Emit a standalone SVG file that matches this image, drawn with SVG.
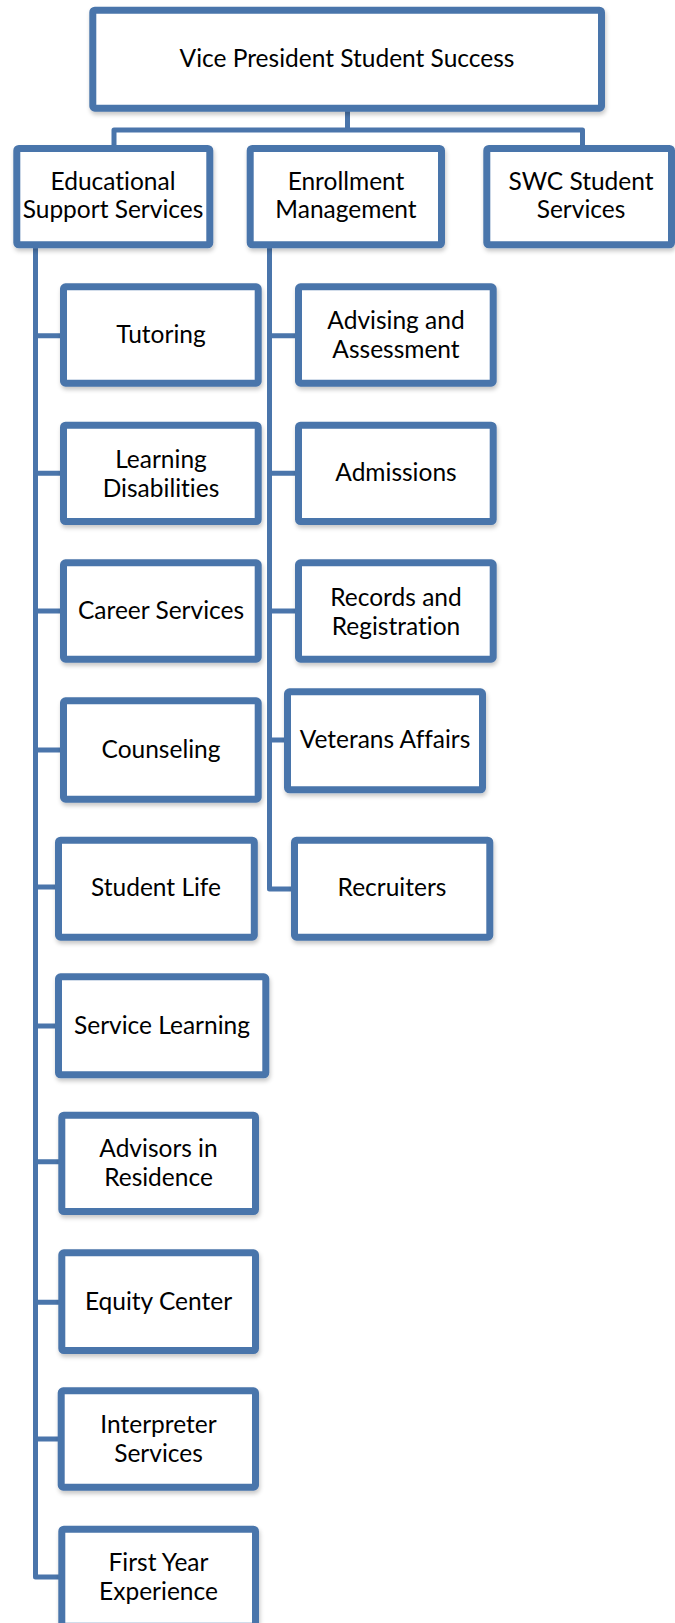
<svg xmlns="http://www.w3.org/2000/svg" width="675" height="1623" viewBox="0 0 675 1623">
<defs>
<filter id="sh" x="-10%" y="-10%" width="120%" height="130%">
<feDropShadow dx="1" dy="3" stdDeviation="2" flood-color="#000" flood-opacity="0.22"/>
</filter>
<style>
.box{fill:#fff;stroke:#4a75ab;stroke-width:7;filter:url(#sh)}
.con{fill:none;stroke:#4a75ab;stroke-width:5;stroke-linejoin:round}
text{font-family:Lato,"Liberation Sans",sans-serif;font-size:24.5px;fill:#000;text-anchor:middle;font-variant-ligatures:none;font-feature-settings:"liga" 0,"dlig" 0}
</style>
</defs>
<rect width="675" height="1623" fill="#fff"/>
<g id="connectors">
<path class="con" d="M347.5 111 V130"/>
<path class="con" d="M114 146 V130 H582.5 V146"/>
<path class="con" d="M35.5 247 V1577 H61"/>
<path class="con" d="M35.5 335.7 H62 M35.5 473.3 H62 M35.5 611 H62 M35.5 750 H62 M35.5 887 H57 M35.5 1026 H57 M35.5 1161.7 H60 M35.5 1302.3 H60 M35.5 1439 H59"/>
<path class="con" d="M269.5 247 V889 H293"/>
<path class="con" d="M269.5 335.7 H297 M269.5 473.3 H297 M269.5 611 H297 M269.5 740 H286"/>
</g>
<g id="vp"><rect class="box" x="92.8" y="10.2" width="508.7" height="98" rx="2"/><text x="347" y="67">Vice President Student Success</text></g>
<g id="ess"><rect class="box" x="16.8" y="148.5" width="193" height="96.3" rx="2"/><text x="113" y="190">Educational</text><text x="113" y="218">Support Services</text></g>
<g id="em"><rect class="box" x="250.2" y="148.5" width="191.3" height="96.3" rx="2"/><text x="346" y="190">Enrollment</text><text x="346" y="218">Management</text></g>
<g id="swc"><rect class="box" x="486.8" y="148.5" width="184.7" height="96.3" rx="2"/><text x="581" y="190">SWC Student</text><text x="581" y="218">Services</text></g>
<g id="tutoring"><rect class="box" x="63.5" y="286.8" width="194.7" height="96.4" rx="2"/><text x="161" y="343">Tutoring</text></g>
<g id="learning"><rect class="box" x="63.5" y="425.2" width="194.7" height="96.4" rx="2"/><text x="161" y="468">Learning</text><text x="161" y="497">Disabilities</text></g>
<g id="career"><rect class="box" x="63.5" y="562.8" width="194.7" height="96.4" rx="2"/><text x="161" y="619">Career Services</text></g>
<g id="counseling"><rect class="box" x="63.5" y="700.8" width="194.7" height="98.4" rx="2"/><text x="161" y="758">Counseling</text></g>
<g id="studentlife"><rect class="box" x="58.5" y="840.2" width="195.8" height="97" rx="2"/><text x="156" y="896">Student Life</text></g>
<g id="servicelearning"><rect class="box" x="58.5" y="976.8" width="207.3" height="98" rx="2"/><text x="162" y="1034">Service Learning</text></g>
<g id="advisors"><rect class="box" x="61.8" y="1115.2" width="193.7" height="96.3" rx="2"/><text x="158.5" y="1157">Advisors in</text><text x="158.5" y="1186">Residence</text></g>
<g id="equity"><rect class="box" x="61.8" y="1252.8" width="193.7" height="97.7" rx="2"/><text x="158.5" y="1310">Equity Center</text></g>
<g id="interpreter"><rect class="box" x="61.2" y="1390.8" width="194.3" height="96.4" rx="2"/><text x="158.5" y="1433">Interpreter</text><text x="158.5" y="1462">Services</text></g>
<g id="firstyear"><rect class="box" x="61.8" y="1529.2" width="193.7" height="97" rx="2"/><text x="158.5" y="1571">First Year</text><text x="158.5" y="1600">Experience</text></g>
<g id="advising"><rect class="box" x="298.5" y="286.8" width="194.7" height="96.4" rx="2"/><text x="396" y="329">Advising and</text><text x="396" y="358">Assessment</text></g>
<g id="admissions"><rect class="box" x="298.5" y="425.2" width="194.7" height="96.4" rx="2"/><text x="396" y="481">Admissions</text></g>
<g id="records"><rect class="box" x="298.5" y="562.8" width="194.7" height="96.4" rx="2"/><text x="396" y="606">Records and</text><text x="396" y="635">Registration</text></g>
<g id="veterans"><rect class="box" x="287.5" y="691.8" width="195" height="98" rx="2"/><text x="385" y="748">Veterans Affairs</text></g>
<g id="recruiters"><rect class="box" x="294.5" y="840.2" width="195.3" height="97" rx="2"/><text x="392" y="896">Recruiters</text></g>
</svg>
